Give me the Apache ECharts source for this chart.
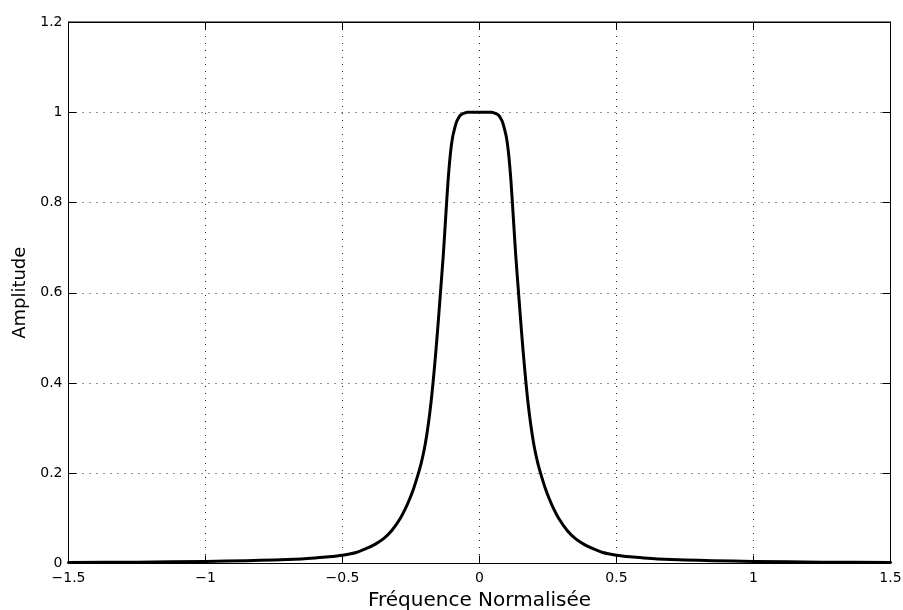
<!DOCTYPE html>
<html>
<head>
<meta charset="utf-8">
<script src="https://cdn.jsdelivr.net/npm/echarts@6/dist/echarts.min.js"></script>
<style>html,body{margin:0;padding:0;background:#fff;}#c{width:903px;height:610px;}</style>
</head>
<body>
<div id="c"></div>
<script>
var freqs = [-1.5, -1.25, -1.0, -0.85, -0.75, -0.65, -0.6, -0.55, -0.5, -0.45, -0.41, -0.38, -0.35, -0.32, -0.29, -0.27, -0.255, -0.24, -0.225, -0.213, -0.201, -0.192, -0.183, -0.176, -0.169, -0.163, -0.156, -0.15, -0.144, -0.138, -0.132, -0.126, -0.12, -0.115, -0.11, -0.104, -0.098, -0.09, -0.083, -0.076, -0.07, -0.063, -0.055, -0.045, -0.03, 0,
             0.03, 0.045, 0.055, 0.063, 0.07, 0.076, 0.083, 0.09, 0.098, 0.104, 0.11, 0.115, 0.12, 0.126, 0.132, 0.138, 0.144, 0.15, 0.156, 0.163, 0.169, 0.176, 0.183, 0.192, 0.201, 0.213, 0.225, 0.24, 0.255, 0.27, 0.29, 0.32, 0.35, 0.38, 0.41, 0.45, 0.5, 0.55, 0.6, 0.65, 0.75, 0.85, 1.0, 1.25, 1.5];
var amplitude = [0.002, 0.003, 0.0045, 0.0062, 0.0078, 0.0102, 0.0122, 0.0148, 0.0185, 0.0245, 0.034, 0.043, 0.055, 0.073, 0.099, 0.122, 0.143, 0.167, 0.196, 0.222, 0.255, 0.287, 0.326, 0.362, 0.404, 0.444, 0.494, 0.540, 0.588, 0.636, 0.685, 0.742, 0.800, 0.846, 0.884, 0.920, 0.945, 0.966, 0.980, 0.988, 0.993, 0.996, 0.998, 1.000, 1.000, 1.000,
                 1.000, 1.000, 0.998, 0.996, 0.993, 0.988, 0.980, 0.966, 0.945, 0.920, 0.884, 0.846, 0.800, 0.742, 0.685, 0.636, 0.588, 0.540, 0.494, 0.444, 0.404, 0.362, 0.326, 0.287, 0.255, 0.222, 0.196, 0.167, 0.143, 0.122, 0.099, 0.073, 0.055, 0.043, 0.034, 0.0245, 0.0185, 0.0148, 0.0122, 0.0102, 0.0078, 0.0062, 0.0045, 0.003, 0.002];
var xTicks = {min: -1.5, max: 1.5, step: 0.5};
var yTicks = {min: 0, max: 1.2, step: 0.2};
var xName = 'Fréquence Normalisée';
var yName = 'Amplitude';

var font = 'DejaVu Sans, Liberation Sans, Arial, sans-serif';
var data = freqs.map(function (f, i) { return [f, amplitude[i]]; });
function fmt(v) { return String(Math.round(v * 100) / 100).replace('-', '\u2212'); }
var split = {show: true, lineStyle: {color: '#222', width: 1, type: [1, 6]}};
var tick = {show: true, inside: true, length: 8, lineStyle: {color: '#000', width: 1}};
var line = {show: true, onZero: false, lineStyle: {color: '#000', width: 1}};

var chart = echarts.init(document.getElementById('c'), null, {renderer: 'canvas'});
chart.setOption({
  animation: false,
  backgroundColor: '#fff',
  grid: {left: 68.5, right: 12.5, top: 22, bottom: 46.5, show: true, borderColor: '#000', borderWidth: 1,
         containLabel: false, outerBoundsMode: 'none'},
  xAxis: [{
    type: 'value', min: xTicks.min, max: xTicks.max, interval: xTicks.step,
    name: xName, nameLocation: 'middle', nameGap: 26,
    nameTextStyle: {fontFamily: font, fontSize: 20, color: '#000'},
    axisLine: line, axisTick: tick, splitLine: split,
    axisLabel: {fontFamily: font, fontSize: 14, color: '#000', margin: 8, formatter: fmt}
  }, {
    type: 'value', position: 'top', min: xTicks.min, max: xTicks.max, interval: xTicks.step,
    axisLine: line, axisTick: tick, splitLine: {show: false}, axisLabel: {show: false}
  }],
  yAxis: [{
    type: 'value', min: yTicks.min, max: yTicks.max, interval: yTicks.step,
    name: yName, nameLocation: 'middle', nameGap: 38,
    nameTextStyle: {fontFamily: font, fontSize: 18, color: '#000'},
    axisLine: line, axisTick: tick, splitLine: split,
    axisLabel: {fontFamily: font, fontSize: 14, color: '#000', margin: 6, formatter: fmt}
  }, {
    type: 'value', position: 'right', min: yTicks.min, max: yTicks.max, interval: yTicks.step,
    axisLine: line, axisTick: tick, splitLine: {show: false}, axisLabel: {show: false}
  }],
  series: [{
    type: 'line', xAxisIndex: 0, yAxisIndex: 0, data: data,
    showSymbol: false, smooth: 0.2,
    lineStyle: {color: '#000', width: 3, join: 'round', cap: 'round'}
  }]
});
</script>
</body>
</html>
